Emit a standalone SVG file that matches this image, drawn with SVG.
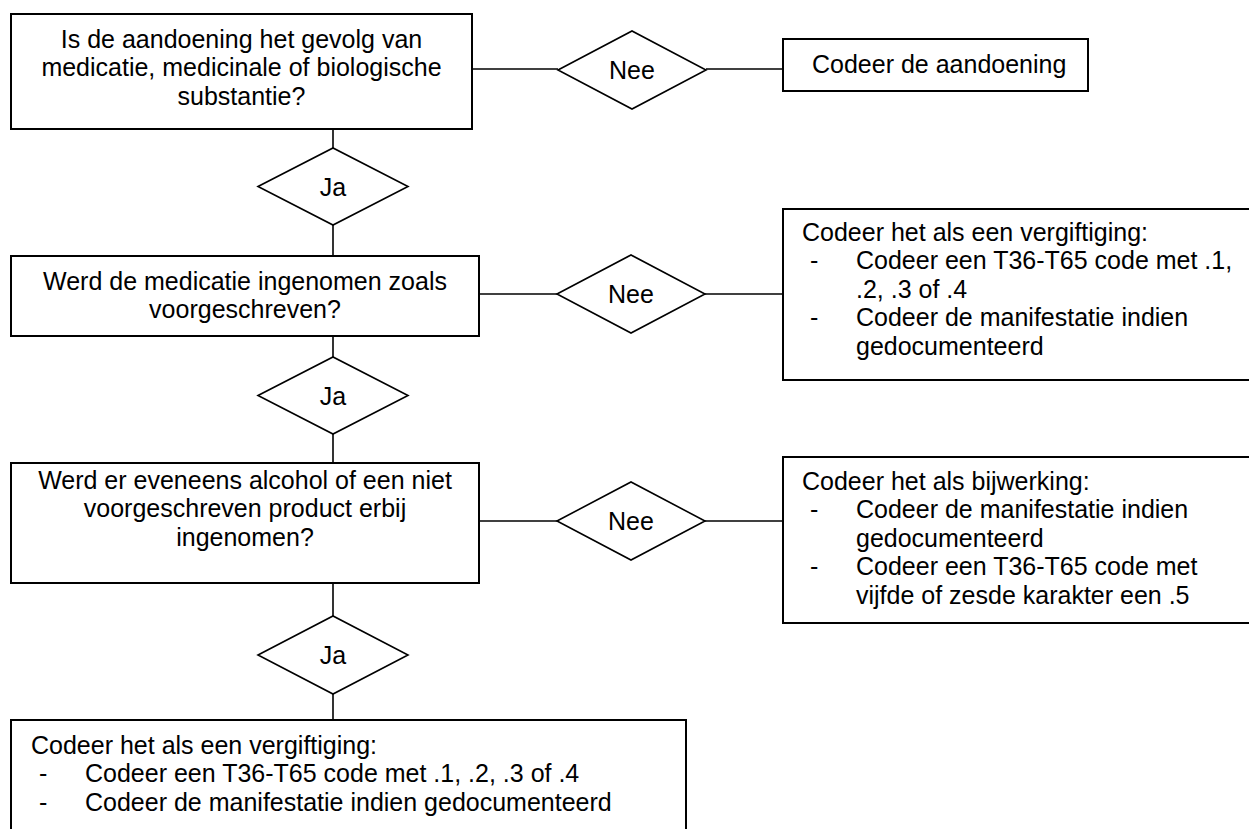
<svg xmlns="http://www.w3.org/2000/svg" width="1249" height="829" viewBox="0 0 1249 829">
<style>
.box{fill:#fff;stroke:#000;stroke-width:2}
.dia{fill:#fff;stroke:#000;stroke-width:1.6}
.ln{stroke:#000;stroke-width:1.6;fill:none}
text{font-family:"Liberation Sans",Arial,sans-serif;font-size:25px;fill:#000}
.c{text-anchor:middle}
</style>
<rect width="1249" height="829" fill="#fff"/>
<g id="connectors">
<line class="ln" x1="333" y1="129" x2="333" y2="148"/>
<line class="ln" x1="333" y1="225" x2="333" y2="256"/>
<line class="ln" x1="333" y1="336" x2="333" y2="357"/>
<line class="ln" x1="333" y1="434" x2="333" y2="463"/>
<line class="ln" x1="333" y1="583" x2="333" y2="616"/>
<line class="ln" x1="333" y1="694" x2="333" y2="720"/>
<line class="ln" x1="472" y1="69" x2="558" y2="69"/>
<line class="ln" x1="706" y1="69" x2="783" y2="69"/>
<line class="ln" x1="479" y1="294" x2="557" y2="294"/>
<line class="ln" x1="705" y1="294" x2="783" y2="294"/>
<line class="ln" x1="479" y1="521" x2="557" y2="521"/>
<line class="ln" x1="705" y1="521" x2="783" y2="521"/>
</g>
<g id="q1">
<rect class="box" x="11" y="14" width="461" height="115"/>
<text class="c" x="241.5" y="48">Is de aandoening het gevolg van</text>
<text class="c" x="241.5" y="76.4">medicatie, medicinale of biologische</text>
<text class="c" x="241.5" y="104.8">substantie?</text>
</g>
<g id="nee1">
<polygon class="dia" points="558,70 632,31 706,70 632,109"/>
<text class="c" x="632" y="79">Nee</text>
</g>
<g id="codeer-aandoening">
<rect class="box" x="783" y="39" width="305" height="52"/>
<text x="812" y="73">Codeer de aandoening</text>
</g>
<g id="ja1">
<polygon class="dia" points="258,186.5 333,148 408,186.5 333,225"/>
<text class="c" x="333" y="195.5">Ja</text>
</g>
<g id="q2">
<rect class="box" x="11" y="256" width="468" height="80"/>
<text class="c" x="245" y="290">Werd de medicatie ingenomen zoals</text>
<text class="c" x="245" y="318.4">voorgeschreven?</text>
</g>
<g id="nee2">
<polygon class="dia" points="557,294 631,255 705,294 631,333"/>
<text class="c" x="631" y="303">Nee</text>
</g>
<g id="vergiftiging1">
<rect class="box" x="783" y="209" width="480" height="171"/>
<text x="802" y="241">Codeer het als een vergiftiging:</text>
<text x="810" y="269.4">-</text>
<text x="856" y="269.4">Codeer een T36-T65 code met .1,</text>
<text x="856" y="297.8">.2, .3 of .4</text>
<text x="810" y="326.2">-</text>
<text x="856" y="326.2">Codeer de manifestatie indien</text>
<text x="856" y="354.6">gedocumenteerd</text>
</g>
<g id="ja2">
<polygon class="dia" points="258,395.5 333,357 408,395.5 333,434"/>
<text class="c" x="333" y="404.5">Ja</text>
</g>
<g id="q3">
<rect class="box" x="11" y="463" width="468" height="120"/>
<text class="c" x="245" y="489">Werd er eveneens alcohol of een niet</text>
<text class="c" x="245" y="517.4">voorgeschreven product erbij</text>
<text class="c" x="245" y="545.8">ingenomen?</text>
</g>
<g id="nee3">
<polygon class="dia" points="557,521 631,482 705,521 631,560"/>
<text class="c" x="631" y="530">Nee</text>
</g>
<g id="bijwerking">
<rect class="box" x="783" y="457" width="480" height="166"/>
<text x="802" y="490">Codeer het als bijwerking:</text>
<text x="810" y="518.4">-</text>
<text x="856" y="518.4">Codeer de manifestatie indien</text>
<text x="856" y="546.8">gedocumenteerd</text>
<text x="810" y="575.2">-</text>
<text x="856" y="575.2">Codeer een T36-T65 code met</text>
<text x="856" y="603.6">vijfde of zesde karakter een .5</text>
</g>
<g id="ja3">
<polygon class="dia" points="258,655 333,616 408,655 333,694"/>
<text class="c" x="333" y="664">Ja</text>
</g>
<g id="vergiftiging2">
<rect class="box" x="11" y="720" width="675" height="130"/>
<text x="31" y="754">Codeer het als een vergiftiging:</text>
<text x="39" y="782.4">-</text>
<text x="85" y="782.4">Codeer een T36-T65 code met .1, .2, .3 of .4</text>
<text x="39" y="810.8">-</text>
<text x="85" y="810.8">Codeer de manifestatie indien gedocumenteerd</text>
</g>
</svg>
